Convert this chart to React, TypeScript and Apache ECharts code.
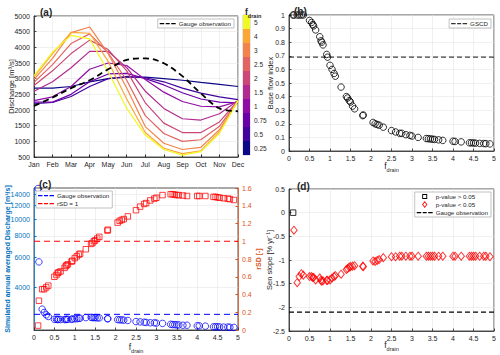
import React, { useEffect, useRef } from "react";
import * as echarts from "echarts";

const FONT = "'Liberation Sans', Arial, Helvetica, sans-serif";
const INK = "#262626";
const LEFT_BLUE = "#0072BD";
const RIGHT_ORANGE = "#D95319";

// ---------- Panel (a) data ----------
const months = ["Jan", "Feb", "Mar", "Apr", "May", "Jun", "Jul", "Aug", "Sep", "Oct", "Nov", "Dec"];
const fdrainLevels = [0.25, 0.5, 0.75, 1, 1.5, 2, 2.5, 3, 4, 5];
const fdrainLevelLabels = ["0.25", "0.5", "0.75", "1", "1.5", "2", "2.5", "3", "4", "5"];
const levelColors = ["#0d0887", "#41049d", "#6a00a8", "#8f0da4", "#b12a90", "#cc4778", "#e16462", "#f2844b", "#fca636", "#f0f921"];
const qF025 = [2700, 2700, 2750, 2900, 3000, 3050, 3050, 3000, 2950, 2880, 2820, 2750];
const qF05 = [2200, 2240, 2430, 2750, 3000, 3070, 3030, 2900, 2700, 2540, 2420, 2330];
const qF075 = [2250, 2250, 2500, 2900, 3150, 3170, 3000, 2800, 2550, 2350, 2250, 2230];
const qF1 = [2300, 2420, 2750, 3300, 3500, 3420, 2970, 2570, 2270, 2120, 2100, 2270];
const qF15 = [2600, 2900, 3350, 3870, 3870, 3350, 2600, 2050, 1720, 1680, 1880, 2300];
const qF2 = [2780, 3250, 3800, 4230, 3930, 3250, 2230, 1580, 1280, 1280, 1620, 2300];
const qF25 = [2880, 3450, 4120, 4430, 3820, 2950, 1820, 1250, 1000, 1050, 1480, 2300];
const qF3 = [2980, 3650, 4470, 4650, 3800, 2700, 1470, 940, 740, 810, 1370, 2300];
const qF4 = [3050, 3800, 4480, 4450, 3550, 2350, 1280, 780, 610, 700, 1300, 2300];
const qF5 = [3100, 3850, 4380, 4270, 3230, 2050, 1200, 740, 560, 670, 1250, 2300];
const simulatedMonthlyQ = [qF025, qF05, qF075, qF1, qF15, qF2, qF25, qF3, qF4, qF5];
const gaugeMonthlyQ = [2130, 2400, 2700, 2950, 3300, 3600, 3650, 3490, 3080, 2530, 2050, 1960];

// ---------- Panels (b)-(d) data ----------
const fdrain = [0.1, 0.12, 0.2, 0.25, 0.3, 0.35, 0.5, 0.55, 0.58, 0.6, 0.65, 0.75, 0.78, 0.8, 0.83, 0.92, 0.94, 1.0, 1.05, 1.1, 1.13, 1.27, 1.4, 1.43, 1.47, 1.5, 1.55, 1.6, 1.8, 1.81, 2.05, 2.1, 2.15, 2.2, 2.3, 2.5, 2.6, 2.7, 2.75, 2.85, 2.95, 3.0, 3.15, 3.35, 3.4, 3.45, 3.5, 3.55, 3.65, 3.75, 4.0, 4.05, 4.2, 4.4, 4.45, 4.5, 4.55, 4.65, 4.75, 4.8, 4.9];
const baseFlowIndex = [1, 1, 1, 1, 1, 1, 0.96, 0.945, 0.93, 0.92, 0.89, 0.84, 0.81, 0.8, 0.78, 0.71, 0.69, 0.63, 0.6, 0.57, 0.55, 0.47, 0.4, 0.39, 0.37, 0.36, 0.33, 0.31, 0.26, 0.265, 0.21, 0.2, 0.195, 0.19, 0.175, 0.15, 0.14, 0.13, 0.13, 0.12, 0.115, 0.11, 0.1, 0.092, 0.09, 0.089, 0.087, 0.085, 0.082, 0.078, 0.072, 0.07, 0.067, 0.06, 0.06, 0.059, 0.058, 0.056, 0.055, 0.054, 0.052];
const annualQ = [15100, 5650, 3000, 2870, 2780, 2720, 2620, 2620, 2610, 2620, 2610, 2610, 2620, 2615, 2620, 2620, 2630, 2640, 2640, 2650, 2660, 2680, 2690, 2680, 2680, 2680, 2670, 2670, 2640, 2640, 2610, 2600, 2600, 2590, 2580, 2540, 2530, 2520, 2510, 2500, 2500, 2490, 2480, 2450, 2440, 2440, 2430, 2430, 2420, 2420, 2400, 2400, 2390, 2370, 2370, 2370, 2365, 2360, 2360, 2355, 2350];
const rsd = [0.05, 0.33, 0.46, 0.46, 0.48, 0.5, 0.6, 0.62, 0.64, 0.65, 0.66, 0.7, 0.72, 0.73, 0.74, 0.77, 0.78, 0.81, 0.83, 0.85, 0.86, 0.91, 0.97, 0.98, 1.0, 1.01, 1.03, 1.05, 1.12, 1.13, 1.21, 1.23, 1.24, 1.25, 1.28, 1.35, 1.39, 1.42, 1.43, 1.46, 1.48, 1.49, 1.52, 1.53, 1.53, 1.525, 1.52, 1.52, 1.515, 1.51, 1.51, 1.51, 1.51, 1.5, 1.5, 1.495, 1.49, 1.485, 1.48, 1.475, 1.465];
const senSlope = [0, -0.37, -1.48, -1.35, -1.29, -1.32, -1.35, -1.35, -1.37, -1.37, -1.42, -1.38, -1.43, -1.45, -1.44, -1.43, -1.43, -1.42, -1.38, -1.35, -1.33, -1.3, -1.2, -1.18, -1.15, -1.14, -1.13, -1.12, -1.13, -1.14, -1.02, -1.03, -1.01, -0.99, -0.95, -0.93, -0.93, -0.92, -0.92, -0.92, -0.92, -0.92, -0.92, -0.92, -0.92, -0.92, -0.92, -0.92, -0.92, -0.92, -0.92, -0.92, -0.92, -0.92, -0.92, -0.92, -0.92, -0.92, -0.92, -0.92, -0.93];
const senPValueAbove005 = fdrain.map((_, i) => i === 0);

const gscdBFI = 0.69;
const gaugeAnnualQ = 2800;
const rsdReference = 1;
const gaugeSenSlope = -2.1;
const logTicks = [4000, 6000, 8000, 10000, 12000, 14000];

const legendNames: Record<string, string> = {
  gaugeA: "Gauge observation",
  gscd: "GSCD",
  gaugeC: "Gauge observation",
  rsdRef: "rSD = 1",
  pHigh: "p-value > 0.05",
  pLow: "p-value < 0.05",
  gaugeD: "Gauge observation",
};

// legend icons drawn in a fixed 16x7 box (tiny corner dots fix the box)
const BOX = "M0,0h0.01v0.01h-0.01z M16,7h0.01v0.01h-0.01z ";
const DASH_ICON = "path://" + BOX + "M0,2.9h4.5v1.3h-4.5z M6,2.9h4v1.3h-4z M11.5,2.9h4.5v1.3h-4.5z";
const SQUARE_ICON = "path://" + BOX + "M5.5,1h5v5h-5z M6.4,1.9v3.2h3.2v-3.2z";
const DIAMOND_ICON = "path://" + BOX + "M8,-0.5L11,3.5L8,7.5L5,3.5z M8,1.1L6.2,3.5L8,5.9L9.8,3.5z";

const fdrainName = "{f|f}{d|drain}";
const fdrainRich = {
  f: { fontSize: 8.5, color: INK, fontFamily: FONT, lineHeight: 10, verticalAlign: "top" },
  d: { fontSize: 5.5, color: INK, fontFamily: FONT, lineHeight: 12, verticalAlign: "bottom" },
};

const plain = (v: number) => String(v);

function axisBase(gridIndex: number, extra: any = {}) {
  return {
    gridIndex,
    nameMoveOverlap: false,
    axisLine: { show: true, onZero: false, lineStyle: { color: INK, width: 0.8 } },
    axisTick: { show: true, inside: true, length: 2.5, lineStyle: { color: INK, width: 0.8 } },
    axisLabel: { fontSize: 7, color: INK, fontFamily: FONT, margin: 4, formatter: plain },
    splitLine: { show: true, lineStyle: { color: "#e6e6e6", width: 0.6 } },
    ...extra,
  };
}

function hLine(value: number) {
  return [[0, value], [5, value]];
}

function buildOption(): any {
  const gridStyle = { show: true, borderColor: INK, borderWidth: 0.8, backgroundColor: "#fff" };
  const legendStyle = {
    backgroundColor: "#fff",
    borderColor: "#999",
    borderWidth: 0.6,
    padding: [1, 3, 1, 2],
    itemGap: 1,
    itemWidth: 16,
    itemHeight: 7,
    textStyle: { fontSize: 6.2, color: INK, fontFamily: FONT, padding: [0, 0, 0, -2] },
    formatter: (n: string) => legendNames[n] || n,
    selectedMode: false,
  };
  const series: any[] = [];
  simulatedMonthlyQ.forEach((arr, i) => {
    series.push({
      type: "line",
      name: "f" + fdrainLevels[i],
      xAxisIndex: 0,
      yAxisIndex: 0,
      data: arr,
      symbol: "none",
      lineStyle: { color: levelColors[i], width: 1.2 },
      itemStyle: { color: levelColors[i] },
      silent: true,
    });
  });
  series.push({
    type: "line",
    name: "gaugeA",
    xAxisIndex: 0,
    yAxisIndex: 0,
    data: gaugeMonthlyQ,
    symbol: "none",
    smooth: 0.35,
    lineStyle: { color: "#000", width: 1.8, type: [6, 4] },
    itemStyle: { color: "#000" },
  });
  // (b)
  series.push({
    type: "scatter",
    name: "bfi",
    xAxisIndex: 1,
    yAxisIndex: 1,
    data: fdrain.map((x, i) => [x, baseFlowIndex[i]]),
    symbol: "circle",
    symbolSize: 6.5,
    clip: false,
    itemStyle: { color: "rgba(0,0,0,0)", borderColor: "#000", borderWidth: 1 },
  });
  series.push({
    type: "line",
    name: "gscd",
    xAxisIndex: 1,
    yAxisIndex: 1,
    data: hLine(gscdBFI),
    symbol: "none",
    lineStyle: { color: "#000", width: 1.3, type: [5, 3], opacity: 0.75 },
    itemStyle: { color: "#000" },
  });
  // (c)
  series.push({
    type: "line",
    name: "gaugeC",
    xAxisIndex: 2,
    yAxisIndex: 2,
    data: hLine(gaugeAnnualQ),
    symbol: "none",
    lineStyle: { color: "#0000ff", width: 1, type: [6, 4] },
    itemStyle: { color: "#0000ff" },
  });
  series.push({
    type: "line",
    name: "rsdRef",
    xAxisIndex: 2,
    yAxisIndex: 3,
    data: hLine(rsdReference),
    symbol: "none",
    lineStyle: { color: "#ff0000", width: 1, type: [6, 4] },
    itemStyle: { color: "#ff0000" },
  });
  series.push({
    type: "scatter",
    name: "annualQ",
    xAxisIndex: 2,
    yAxisIndex: 2,
    data: fdrain.map((x, i) => [x, annualQ[i]]),
    symbol: "circle",
    symbolSize: 6.5,
    clip: false,
    itemStyle: { color: "rgba(0,0,0,0)", borderColor: "#0000ff", borderWidth: 1, opacity: 0.75 },
  });
  series.push({
    type: "scatter",
    name: "rsdPts",
    xAxisIndex: 2,
    yAxisIndex: 3,
    data: fdrain.map((x, i) => [x, rsd[i]]),
    symbol: "rect",
    symbolSize: 5.5,
    itemStyle: { color: "rgba(0,0,0,0)", borderColor: "#ff0000", borderWidth: 1, opacity: 0.75 },
  });
  // (d)
  series.push({
    type: "scatter",
    name: "pHigh",
    xAxisIndex: 3,
    yAxisIndex: 4,
    data: fdrain.map((x, i) => (senPValueAbove005[i] ? [x, senSlope[i]] : null)).filter(Boolean),
    symbol: "rect",
    symbolSize: 5.5,
    itemStyle: { color: "rgba(0,0,0,0)", borderColor: "#000", borderWidth: 1 },
  });
  series.push({
    type: "scatter",
    name: "pLow",
    xAxisIndex: 3,
    yAxisIndex: 4,
    data: fdrain.map((x, i) => (!senPValueAbove005[i] ? [x, senSlope[i]] : null)).filter(Boolean),
    symbol: "diamond",
    symbolSize: [6.5, 8],
    itemStyle: { color: "rgba(0,0,0,0)", borderColor: "#ff0000", borderWidth: 1 },
  });
  series.push({
    type: "line",
    name: "gaugeD",
    xAxisIndex: 3,
    yAxisIndex: 4,
    data: hLine(gaugeSenSlope),
    symbol: "none",
    lineStyle: { color: "#000", width: 1.3, type: [5, 3] },
    itemStyle: { color: "#000" },
  });
  // colorbar
  series.push({
    type: "bar",
    name: "colorbar",
    xAxisIndex: 4,
    yAxisIndex: 5,
    data: fdrainLevels.map((_, i) => ({ value: 1, itemStyle: { color: levelColors[i] } })),
    barWidth: "100%",
    barCategoryGap: 0,
    silent: true,
  });

  const fx = (gi: number, gap: number) =>
    axisBase(gi, {
      type: "value",
      min: 0,
      max: 5,
      interval: 0.5,
      name: fdrainName,
      nameLocation: "middle",
      nameGap: gap,
      nameTextStyle: { rich: fdrainRich },
    });

  const iconItem = (name: string, icon: string, color: string) => ({
    name,
    icon,
    itemStyle: { color, borderWidth: 0, opacity: 1 },
  });

  return {
    animation: false,
    backgroundColor: "#fff",
    textStyle: { fontFamily: FONT },
    title: [
      { text: "(a)", left: 35, top: 2, textStyle: { fontSize: 10, fontWeight: "bold", color: INK, fontFamily: FONT } },
      { text: "(b)", left: 289, top: 1, textStyle: { fontSize: 10, fontWeight: "bold", color: INK, fontFamily: FONT } },
      { text: "(c)", left: 34, top: 174, textStyle: { fontSize: 10, fontWeight: "bold", color: INK, fontFamily: FONT } },
      { text: "(d)", left: 292, top: 176, textStyle: { fontSize: 10, fontWeight: "bold", color: INK, fontFamily: FONT } },
      { text: fdrainName, left: 240, top: 2, textStyle: { rich: fdrainRich } },
    ],
    grid: [
      { left: 34, top: 16, width: 204, height: 141, ...gridStyle },
      { left: 289, top: 15, width: 205, height: 136, ...gridStyle },
      { left: 34, top: 188, width: 204, height: 143, ...gridStyle },
      { left: 289, top: 189, width: 205, height: 142, ...gridStyle },
      { left: 243, top: 15, width: 7, height: 140, show: true, borderColor: "#999", borderWidth: 0.5 },
    ],
    legend: [
      { ...legendStyle, data: [iconItem("gaugeA", DASH_ICON, "#000")], right: 266, top: 19 },
      { ...legendStyle, data: [iconItem("gscd", DASH_ICON, "#333")], right: 9, top: 19 },
      { ...legendStyle, data: [iconItem("gaugeC", DASH_ICON, "#0000ff"), iconItem("rsdRef", DASH_ICON, "#ff0000")], orient: "vertical", left: 36, top: 191 },
      { ...legendStyle, data: [iconItem("pHigh", SQUARE_ICON, "#000"), iconItem("pLow", DIAMOND_ICON, "#ff0000"), iconItem("gaugeD", DASH_ICON, "#000")], orient: "vertical", right: 9, top: 192 },
    ],
    xAxis: [
      axisBase(0, { type: "category", data: months, boundaryGap: false, axisLabel: { fontSize: 7, color: INK, fontFamily: FONT, margin: 4 }, axisTick: { show: true, inside: true, length: 2.5, alignWithLabel: true, lineStyle: { color: INK } } }),
      fx(1, 10),
      fx(2, 12),
      fx(3, 9),
      { gridIndex: 4, type: "value", min: 0, max: 1, show: false },
    ],
    yAxis: [
      axisBase(0, {
        type: "value",
        min: 500,
        max: 5000,
        interval: 500,
        name: "Discharge [m³/s]",
        nameLocation: "middle",
        nameGap: 19,
        nameTextStyle: { fontSize: 7.5, color: INK, fontFamily: FONT },
      }),
      axisBase(1, {
        type: "value",
        min: 0,
        max: 1,
        interval: 0.1,
        name: "Base flow index",
        nameLocation: "middle",
        nameGap: 15,
        nameTextStyle: { fontSize: 7.5, color: INK, fontFamily: FONT },
      }),
      axisBase(2, {
        type: "log",
        logBase: 10,
        min: 2270,
        max: 15200,
        name: "Simulated annual averaged Discharge [m³/s]",
        nameLocation: "middle",
        nameGap: 23,
        nameTextStyle: { fontSize: 7, color: LEFT_BLUE, fontFamily: FONT, fontWeight: "bold" },
        axisLine: { show: true, onZero: false, lineStyle: { color: LEFT_BLUE, width: 0.8 } },
        axisTick: { show: true, inside: true, length: 2.5, customValues: logTicks, lineStyle: { color: LEFT_BLUE } },
        axisLabel: { fontSize: 7, color: LEFT_BLUE, fontFamily: FONT, margin: 4, customValues: logTicks, formatter: plain },
        splitLine: { show: true, lineStyle: { color: "#e6e6e6", width: 0.6 } },
      }),
      axisBase(2, {
        type: "value",
        position: "right",
        min: 0,
        max: 1.6,
        interval: 0.2,
        name: "rSD [-]",
        nameLocation: "middle",
        nameGap: 17,
        nameRotate: 90,
        nameTextStyle: { fontSize: 7, color: RIGHT_ORANGE, fontFamily: FONT, fontWeight: "bold" },
        axisLine: { show: true, onZero: false, lineStyle: { color: RIGHT_ORANGE, width: 0.8 } },
        axisTick: { show: true, inside: true, length: 2.5, lineStyle: { color: RIGHT_ORANGE } },
        axisLabel: { fontSize: 7, color: RIGHT_ORANGE, fontFamily: FONT, margin: 4, formatter: plain },
        splitLine: { show: false },
      }),
      axisBase(3, {
        type: "value",
        min: -2.5,
        max: 0.5,
        interval: 0.5,
        name: "Sen slope [% yr⁻¹]",
        nameLocation: "middle",
        nameGap: 16,
        nameTextStyle: { fontSize: 7.5, color: INK, fontFamily: FONT },
      }),
      {
        gridIndex: 4,
        type: "category",
        data: fdrainLevelLabels,
        position: "right",
        axisLine: { show: false },
        axisTick: { show: false },
        splitLine: { show: false },
        axisLabel: { fontSize: 6.5, color: INK, fontFamily: FONT, margin: 4 },
      },
    ],
    series,
  };
}

export default function App() {
  const ref = useRef<HTMLDivElement>(null);
  useEffect(() => {
    if (!ref.current) return;
    const chart = echarts.init(ref.current, null, { renderer: "svg" });
    chart.setOption(buildOption());
    return () => chart.dispose();
  }, []);
  return (
    <div
      ref={ref}
      style={{ position: "fixed", left: 0, top: 0, width: 500, height: 355, background: "#fff" }}
    />
  );
}
